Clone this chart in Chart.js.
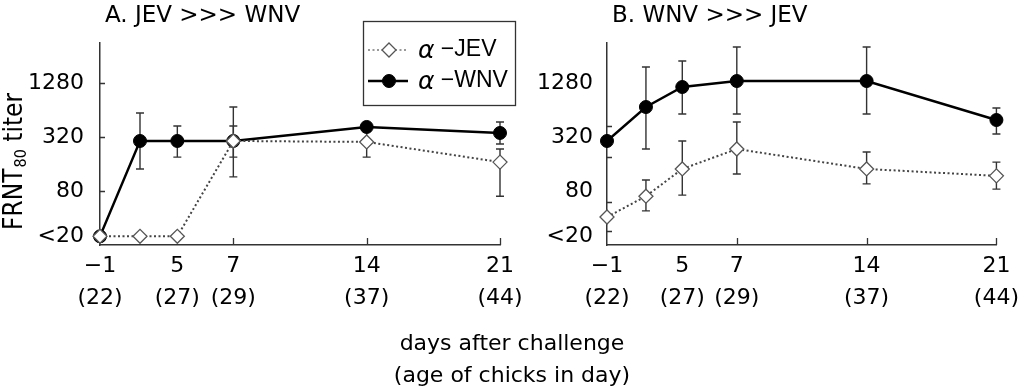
<!DOCTYPE html>
<html><head><meta charset="utf-8">
<script src="https://cdn.jsdelivr.net/npm/chart.js@4.4.1/dist/chart.umd.min.js"></script>
<style>
html,body{margin:0;padding:0;background:#fff;width:1024px;height:388px;overflow:hidden;}
#wrap{position:relative;width:1024px;height:388px;}
canvas{position:absolute;left:0;top:0;}
#xt{position:absolute;left:0;width:1024px;top:327px;text-align:center;font-family:"DejaVu Sans",sans-serif;font-size:22px;line-height:32px;color:#000;}
</style></head><body>
<div id="wrap">
<canvas id="cA" width="1024" height="388" style="width:1024px;height:388px"></canvas>
<canvas id="cB" width="1024" height="388" style="width:1024px;height:388px"></canvas>
<div id="xt">days after challenge<br>(age of chicks in day)</div>
</div>
<script>
// ---- data ----
const days = [-1, 2, 5, 7, 14, 21];
const axisSlot = [0, 0.3, 0.58, 1, 2, 3];          // uneven category spacing of the original axis
const tickDays = [-1, 5, 7, 14, 21];
const tickDayLabels = ['\u22121', '5', '7', '14', '21'];
const tickAgeLabels = ['(22)', '(27)', '(29)', '(37)', '(44)'];
const xMarkDays = [7, 14, 21];
const yTickValues = [25, 80, 320, 1280];
const yTickLabels = ['<20', '80', '320', '1280'];
const aMarkValues = [80, 320, 1280];
const bMarkValues = [29, 60, 191, 424];
const seriesNames = ['\u2212JEV', '\u2212WNV'];

// Panel A: JEV >>> WNV
const aJev   = [25, 25, 25, 289, 282, 168];
const aJevLo = [null, null, null, 191, 191, 70];
const aJevHi = [null, null, null, 424, 414, 235];
const aWnv   = [25, 289, 289, 289, 414, 355];
const aWnvLo = [null, 141, 191, 115, null, 267];
const aWnvHi = [null, 593, 424, 691, null, 470];
// Panel B: WNV >>> JEV
const bJev   = [41, 70, 141, 235, 141, 118];
const bJevLo = [null, 48, 72, 124, 96, 84];
const bJevHi = [null, 106, 289, 470, 218, 168];
const bWnv   = [289, 691, 1155, 1347, 1347, 495];
const bWnvLo = [null, 235, 577, 577, 577, 346];
const bWnvHi = [null, 1930, 2250, 3225, 3225, 673];

const slotOf = d => axisSlot[days.indexOf(d)];
const TICKFONT = '"DejaVu Sans", sans-serif';

const JEV_STYLE = {borderColor:'#444', borderWidth:2, borderDash:[2,2.5], pointStyle:'rectRot', pointRadius:7, pointHoverRadius:7, pointBackgroundColor:'#fff', pointBorderColor:'#555', pointBorderWidth:1.3};
const WNV_STYLE = {borderColor:'#000', borderWidth:2.4, borderDash:[], pointStyle:'circle', pointRadius:6.5, pointHoverRadius:6.5, pointBackgroundColor:'#000', pointBorderColor:'#000', pointBorderWidth:1};

function drawMarker(ctx, st, x, y){
  ctx.save();
  ctx.fillStyle = st.pointBackgroundColor; ctx.strokeStyle = st.pointBorderColor; ctx.lineWidth = st.pointBorderWidth; ctx.setLineDash([]);
  ctx.beginPath();
  const r = st.pointRadius;
  if (st.pointStyle === 'circle') ctx.arc(x, y, r, 0, Math.PI*2);
  else { ctx.moveTo(x, y-r); ctx.lineTo(x+r, y); ctx.lineTo(x, y+r); ctx.lineTo(x-r, y); ctx.closePath(); }
  ctx.fill(); ctx.stroke();
  ctx.restore();
}

const extras = {
  id: 'extras',
  beforeDatasetsDraw(chart) {
    const {ctx, scales:{x, y}} = chart;
    ctx.save();
    ctx.strokeStyle = '#333'; ctx.lineWidth = 1.4; ctx.setLineDash([]);
    chart.data.datasets.forEach(ds => {
      ds.errLo.forEach((lo, i) => {
        const hi = ds.errHi[i];
        if (lo == null || hi == null) return;
        const px = x.getPixelForValue(axisSlot[i]);
        const p1 = y.getPixelForValue(lo), p2 = y.getPixelForValue(hi);
        ctx.beginPath();
        ctx.moveTo(px, p1); ctx.lineTo(px, p2);
        ctx.moveTo(px-4, p1); ctx.lineTo(px+4, p1);
        ctx.moveTo(px-4, p2); ctx.lineTo(px+4, p2);
        ctx.stroke();
      });
    });
    ctx.restore();
  },
  afterDraw(chart, args, opts) {
    const {ctx, chartArea:ca, scales:{x, y}} = chart;
    ctx.save();
    // inward tick marks
    ctx.strokeStyle = '#333'; ctx.lineWidth = 1.3; ctx.beginPath();
    opts.yMarks.forEach(v => { const py = Math.round(y.getPixelForValue(v)) + 0.5; ctx.moveTo(ca.left, py); ctx.lineTo(ca.left + 5, py); });
    xMarkDays.forEach(d => { const px = Math.round(x.getPixelForValue(slotOf(d))) + 0.5; ctx.moveTo(px, ca.bottom); ctx.lineTo(px, ca.bottom - 7); });
    ctx.stroke();
    // panel title
    ctx.fillStyle = '#000';
    ctx.font = '23px "DejaVu Sans", sans-serif';
    ctx.textBaseline = 'middle'; ctx.textAlign = 'left';
    ctx.fillText(opts.title, ca.left + 5, 16);
    if (opts.yTitle) {
      ctx.save();
      ctx.translate(22, 230);
      ctx.rotate(-Math.PI/2);
      ctx.textBaseline = 'alphabetic';
      ctx.font = '26px "DejaVu Sans Condensed", "DejaVu Sans", sans-serif';
      ctx.fillText('FRNT', 0, 0);
      let w = ctx.measureText('FRNT').width;
      ctx.font = '16px "DejaVu Sans Condensed", "DejaVu Sans", sans-serif';
      ctx.fillText('80', w + 1, 4);
      w += 1 + ctx.measureText('80').width;
      ctx.font = '26px "DejaVu Sans Condensed", "DejaVu Sans", sans-serif';
      ctx.fillText(' titer', w, 0);
      ctx.restore();
    }
    if (opts.legend) {
      ctx.fillStyle = '#fff'; ctx.strokeStyle = '#333'; ctx.lineWidth = 1.3;
      ctx.fillRect(363, 21, 152, 84); ctx.strokeRect(363.5, 21.5, 152, 84);
      const rows = [50, 81];
      chart.data.datasets.forEach((ds, i) => {
        const ry = rows[i];
        ctx.save();
        ctx.strokeStyle = i === 0 ? '#999' : ds.borderColor; ctx.lineWidth = ds.borderWidth; ctx.setLineDash(ds.borderDash);
        ctx.beginPath(); ctx.moveTo(368, ry); ctx.lineTo(408, ry); ctx.stroke();
        ctx.restore();
        drawMarker(ctx, ds, 389, ry);
        ctx.fillStyle = '#000'; ctx.textBaseline = 'middle'; ctx.textAlign = 'left';
        ctx.font = 'italic 25px "DejaVu Sans", sans-serif';
        ctx.fillText('\u03b1', 418, ry + 1);
        const aw = ctx.measureText('\u03b1').width;
        ctx.font = '23px "Liberation Sans", sans-serif';
        ctx.fillText(' ' + ds.label, 418 + aw, ry);
      });
    }
    ctx.restore();
  }
};

function makeChart(id, jev, jevLo, jevHi, wnv, wnvLo, wnvHi, o) {
  const pts = arr => arr.map((v, i) => ({x: axisSlot[i], y: v}));
  return new Chart(document.getElementById(id), {
    type: 'line',
    data: {
      datasets: [
        Object.assign({label: seriesNames[0], data: pts(jev), errLo: jevLo, errHi: jevHi, clip: false, fill: false, tension: 0}, JEV_STYLE),
        Object.assign({label: seriesNames[1], data: pts(wnv), errLo: wnvLo, errHi: wnvHi, clip: false, fill: false, tension: 0}, WNV_STYLE)
      ]
    },
    options: {
      responsive: false, animation: false, devicePixelRatio: 1,
      layout: {padding: {left: o.padLeft, right: o.padRight, top: 43, bottom: 73}},
      plugins: {legend: {display: false}, tooltip: {enabled: false},
        extras: {title: o.title, yMarks: o.yMarks, legend: o.legend, yTitle: o.yTitle}},
      scales: {
        x: {type: 'linear', min: 0, max: 3,
          afterBuildTicks: s => { s.ticks = tickDays.map(d => ({value: slotOf(d)})); },
          afterFit: s => { s.height = 70; },
          grid: {display: true, drawOnChartArea: false, drawTicks: false},
          border: {display: true, color: '#333', width: 1.5},
          ticks: {autoSkip: false, maxRotation: 0, padding: 5, color: '#000',
            font: {family: TICKFONT, size: 22, lineHeight: 1.45},
            callback: (v, i) => [tickDayLabels[i], tickAgeLabels[i]]}
        },
        y: {type: 'logarithmic', min: 20, max: 3575,
          afterBuildTicks: s => { s.ticks = yTickValues.map(v => ({value: v})); },
          afterFit: s => { s.width = 100; },
          grid: {display: true, drawOnChartArea: false, drawTicks: false},
          border: {display: true, color: '#333', width: 1.5},
          ticks: {autoSkip: false, padding: o.yPad, color: '#000',
            font: {family: TICKFONT, size: 22},
            callback: (v, i) => yTickLabels[i]}
        }
      }
    },
    plugins: [extras]
  });
}

makeChart('cA', aJev, aJevLo, aJevHi, aWnv, aWnvLo, aWnvHi,
  {padLeft: 0, padRight: 524, title: 'A. JEV >>> WNV', yMarks: aMarkValues, legend: true, yTitle: true, yPad: 16});
makeChart('cB', bJev, bJevLo, bJevHi, bWnv, bWnvLo, bWnvHi,
  {padLeft: 507, padRight: 19, title: 'B. WNV >>> JEV', yMarks: bMarkValues, legend: false, yTitle: false, yPad: 14});
</script>
</body></html>
